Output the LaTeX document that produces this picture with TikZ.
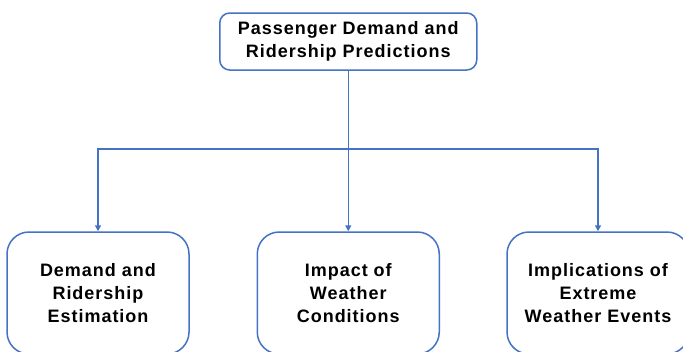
\documentclass[tikz,border=0pt]{standalone}
\usepackage{fontspec}
\setmainfont{Liberation Sans}[LetterSpace=5.5]
\usetikzlibrary{arrows.meta}
\definecolor{linkblue}{HTML}{4472C4}
\begin{document}
\begin{tikzpicture}[x=1pt,y=-1pt,
  box/.style={draw=linkblue, line width=1.5pt, fill=white, align=center,
    font=\fontsize{18}{23}\selectfont\bfseries, inner sep=0pt},
  topbox/.style={box, rounded corners=10pt, minimum width=257pt, minimum height=57pt},
  leafbox/.style={box, rounded corners=22pt, minimum width=182pt, minimum height=122pt},
  link/.style={draw=linkblue, line width=1.5pt},
  tip/.style={-{Triangle[length=6pt,width=6pt]}}]
\useasboundingbox (0,0) rectangle (683,351);
\clip (0,0) rectangle (683,351);
\fill[white] (0,0) rectangle (683,351);

% root of the tree
\node[topbox] (root) at (348.25,41.5) {Passenger Demand and\\Ridership Predictions};

% three branches
\node[leafbox] (demand) at (98,293) {Demand and\\Ridership\\Estimation};
\node[leafbox] (impact) at (348.25,293) {Impact of\\Weather\\Conditions};
\node[leafbox] (extreme) at (598,293) {Implications of\\Extreme\\Weather Events};

% connectors
\coordinate (split) at (348.25,149);
\draw[link,tip] (root.south) -- (impact.north);
\draw[link,tip] (split) -| (demand.north);
\draw[link,tip] (split) -| (extreme.north);
\end{tikzpicture}
\end{document}
